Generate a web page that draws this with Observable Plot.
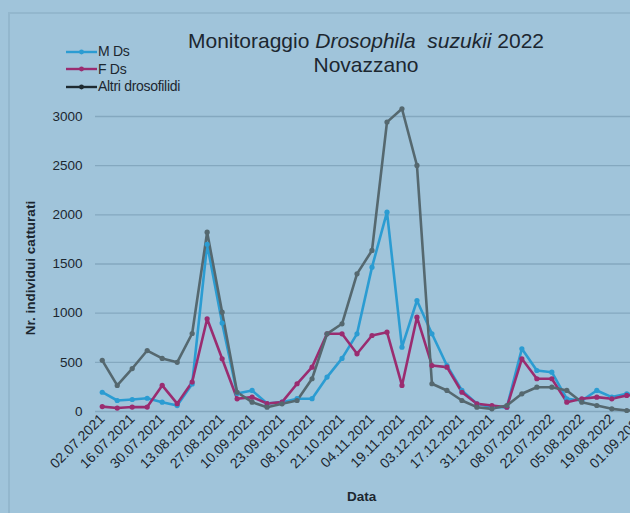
<!DOCTYPE html>
<html>
<head>
<meta charset="utf-8">
<script src="https://cdn.jsdelivr.net/npm/d3@7"></script>
<script src="https://cdn.jsdelivr.net/npm/@observablehq/plot@0.6"></script>
<style>
  html, body { margin: 0; padding: 0; background: #a0c4da; overflow: hidden; }
  #wrap { position: relative; width: 630px; height: 513px; overflow: hidden; background: #a0c4da; font-family: "Liberation Sans", Arial, sans-serif; color: #1c2730; }
  #frame { position: absolute; left: 8px; top: 12px; width: 640px; height: 520px; border-left: 2px solid #93b7cd; border-top: 2px solid #93b7cd; }
  #title { position: absolute; left: 0; width: 732px; top: 29px; text-align: center; font-size: 21px; line-height: 24px; }
  #legend { position: absolute; left: 66px; top: 43px; font-size: 14px; line-height: 17.5px; letter-spacing: -0.3px; }
  #legend div { display: flex; align-items: center; }
  #legend svg { margin-right: 1px; }
  #ylab { position: absolute; left: 30px; top: 268px; transform: translate(-50%, -50%) rotate(-90deg); font-weight: bold; font-size: 13.5px; white-space: nowrap; }
  #xlab { position: absolute; left: 347px; top: 489px; font-weight: bold; font-size: 13.5px; }
  #chart { position: absolute; left: 0; top: 0; width: 660px; }
  #chart svg { max-width: none !important; width: 660px; height: 513px; }
</style>
</head>
<body>
<div id="wrap">
  <div id="frame"></div>
  <div id="chart"></div>
  <div id="title">Monitoraggio <i>Drosophila&nbsp; suzukii</i> 2022<br>Novazzano</div>
  <div id="legend"></div>
  <div id="ylab">Nr. individui catturati</div>
  <div id="xlab">Data</div>
</div>
<script>
const dates = [
  "02.07.2021","09.07.2021","16.07.2021","23.07.2021","30.07.2021","06.08.2021","13.08.2021","20.08.2021",
  "27.08.2021","03.09.2021","10.09.2021","16.09.2021","23.09.2021","01.10.2021","08.10.2021","15.10.2021",
  "21.10.2021","28.10.2021","04.11.2021","12.11.2021","19.11.2021","26.11.2021","03.12.2021","10.12.2021",
  "17.12.2021","24.12.2021","31.12.2021","01.07.2022","08.07.2022","15.07.2022","22.07.2022","29.07.2022",
  "05.08.2022","12.08.2022","19.08.2022","26.08.2022","01.09.2022"
];
const mDs = [196,112,122,135,95,60,280,1700,900,183,214,81,95,130,130,350,540,790,1468,2027,654,1129,790,468,214,78,44,44,638,417,400,129,112,214,146,180,170];
const fDs = [50,35,45,45,265,80,300,943,536,129,146,81,95,282,451,790,790,587,773,807,265,959,468,451,196,78,61,44,536,333,333,95,129,146,129,163,170];
const altri = [520,265,437,620,540,500,793,1824,1010,196,95,44,78,112,333,790,892,1400,1638,2943,3079,2502,282,214,112,44,27,61,180,247,247,214,95,61,27,10,10];
const seriesNames = ["M Ds", "F Ds", "Altri drosofilidi"];
const seriesColors = ["#2b9cd2", "#9a2c70", "#55686f"];
const legendColors = ["#2b9cd2", "#9a2c70", "#1e2a30"];
const yTicks = [0, 500, 1000, 1500, 2000, 2500, 3000];
const xTickLabels = dates.filter((d, i) => i % 2 === 0);

const rows = [];
[mDs, fDs, altri].forEach((vals, s) => {
  vals.forEach((v, i) => rows.push({date: dates[i], value: v, series: seriesNames[s]}));
});

const chart = Plot.plot({
  width: 660,
  height: 513,
  marginLeft: 95,
  marginRight: 12,
  marginTop: 116,
  marginBottom: 102,
  style: {background: "transparent", fontFamily: "Liberation Sans, Arial, sans-serif", fontSize: "13px", color: "#1c2730", maxWidth: "none"},
  x: {type: "point", domain: dates, padding: 0.45},
  y: {domain: [0, 3000]},
  color: {domain: seriesNames, range: seriesColors},
  marks: [
    Plot.gridY(yTicks, {stroke: "#84a8bf", strokeOpacity: 1, strokeWidth: 1.4}),
    Plot.axisY(yTicks, {tickSize: 0, tickPadding: 13, label: null, fontSize: 13.5, tickFormat: d => String(d)}),
    Plot.axisX(xTickLabels, {tickSize: 0, tickPadding: 5, tickRotate: -45, label: null, fontSize: 14}),
    Plot.line(rows, {x: "date", y: "value", z: "series", stroke: "series", strokeWidth: 2.6}),
    Plot.dot(rows, {x: "date", y: "value", fill: "series", r: 2.6})
  ]
});
document.getElementById("chart").appendChild(chart);

const legend = document.getElementById("legend");
seriesNames.forEach((name, i) => {
  const row = document.createElement("div");
  row.innerHTML = `<svg width="31" height="8"><line x1="0" y1="4" x2="31" y2="4" stroke="${legendColors[i]}" stroke-width="2.4"/><circle cx="15.5" cy="4" r="2.4" fill="${legendColors[i]}"/></svg><span>${name}</span>`;
  legend.appendChild(row);
});
</script>
</body>
</html>
